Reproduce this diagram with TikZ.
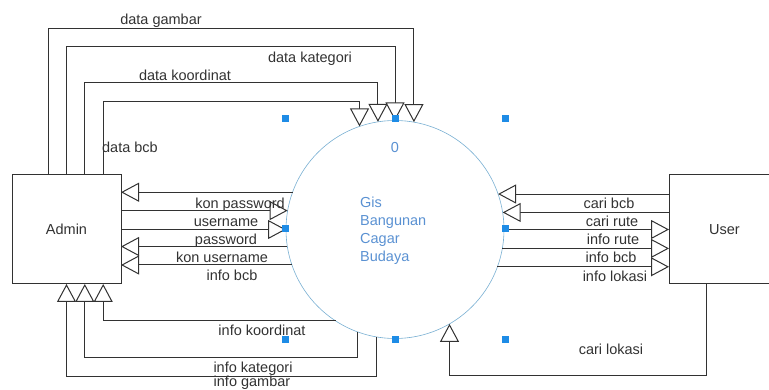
\documentclass[tikz,border=0pt]{standalone}
\usepackage{fontspec}
\setmainfont{Liberation Sans}
\usetikzlibrary{arrows.meta,calc}
\definecolor{procline}{RGB}{120,175,210}
\definecolor{proctext}{RGB}{90,145,210}
\definecolor{handle}{RGB}{30,140,230}
\definecolor{ink}{RGB}{50,50,50}
\begin{document}
\begin{tikzpicture}[x=1pt,y=-1pt,
  font=\fontsize{14.5}{17}\selectfont,
  entity/.style={draw=ink,line width=1pt,minimum width=109pt,minimum height=109pt,
    inner sep=0pt,outer sep=0pt,text=ink},
  process/.style={circle,draw=procline,line width=0.6pt,minimum size=218pt,
    inner sep=0pt,outer sep=0pt},
  flow/.style={draw=ink,line width=1pt,
    -{Triangle[length=18pt,width=19pt,fill=white]}},
  lbl/.style={text=ink,inner sep=0pt,anchor=mid,yshift=-2.5pt},
  ptext/.style={text=proctext,inner sep=0pt,anchor=mid west,yshift=-2pt},
  handlebox/.style={fill=handle,minimum size=7pt,inner sep=0pt}
]
\useasboundingbox (0,0) rectangle (769,390);
\clip (0,0) rectangle (769,390);

% external entities and the process
\node[entity] (admin) at (66.5,229.5) {Admin};
\node[entity,minimum width=111pt] (user) at (724.5,229.5) {User};
\node[process] (p) at (395,229.5) {};

% process texts
\node[text=proctext,inner sep=0pt,anchor=mid,yshift=-2pt] (pnum) at (395,148) {0};
\node[ptext] (pt1) at (360,202.7) {Gis};
\node[ptext] (pt2) at (360,220.7) {Bangunan};
\node[ptext] (pt3) at (360,238.7) {Cagar};
\node[ptext] (pt4) at (360,256.7) {Budaya};

% Admin -> process (top)
\draw[flow] ([xshift=36.7pt]admin.north) |- (p.109.3 |- 0,102) -- (p.109.3);
\draw[flow] ([xshift=18.3pt]admin.north) |- (p.99.5 |- 0,83) -- (p.99.5);
\draw[flow] (admin.north) |- (p.90 |- 0,47) -- (p.90);
\draw[flow] ([xshift=-18.3pt]admin.north) |- (p.80.5 |- 0,28.3) -- (p.80.5);

% Admin <-> process (left)
\draw[flow] (p.160.3) -- (admin.east |- p.160.3);
\draw[flow] (admin.east |- p.170.3) -- (p.170.3);
\draw[flow] (admin.east |- p.180) -- (p.180);
\draw[flow] (p.189.7) -- (admin.east |- p.189.7);
\draw[flow] (p.199.7) -- (admin.east |- p.199.7);

% process -> Admin (bottom)
\draw[flow] (p.237.1) -| ([xshift=36.7pt]admin.south);
\draw[flow] (p.250.7) -- (p.250.7 |- 0,357) -| ([xshift=18.3pt]admin.south);
\draw[flow] (p.260.5) -- (p.260.5 |- 0,376) -| (admin.south);

% User <-> process (right)
\draw[flow] (user.west |- p.19.7) -- (p.19.7);
\draw[flow] (user.west |- p.9.7) -- (p.9.7);
\draw[flow] (p.0) -- (user.west |- p.0);
\draw[flow] (p.350.3) -- (user.west |- p.350.3);
\draw[flow] (p.340.3) -- (user.west |- p.340.3);
\draw[flow] ([xshift=-18.5pt]user.south) |- (p.300.9 |- 0,375.7) -- (p.300.9);

% flow labels
\node[lbl] (l1) at (161,19) {data gambar};
\node[lbl] (l2) at (310,57) {data kategori};
\node[lbl] (l3) at (185,75) {data koordinat};
\node[lbl] (l4) at (130,147) {data bcb};
\node[lbl] (l5) at (240,203) {kon password};
\node[lbl] (l6) at (226,221) {username};
\node[lbl] (l7) at (226,239) {password};
\node[lbl] (l8) at (222,257) {kon username};
\node[lbl] (l9) at (232,275) {info bcb};
\node[lbl] (l10) at (262,330) {info koordinat};
\node[lbl] (l11) at (253,367) {info kategori};
\node[lbl] (l12) at (252,381) {info gambar};
\node[lbl] (r1) at (609,203) {cari bcb};
\node[lbl] (r2) at (612,221) {cari rute};
\node[lbl] (r3) at (613,239) {info rute};
\node[lbl] (r4) at (611,257) {info bcb};
\node[lbl] (r5) at (615,276) {info lokasi};
\node[lbl] (r6) at (611,349) {cari lokasi};

% selection handles of the process
\node[handlebox] (h1) at (285,119) {};
\node[handlebox] (h2) at (395,119) {};
\node[handlebox] (h3) at (505,119) {};
\node[handlebox] (h4) at (285,229) {};
\node[handlebox] (h5) at (505,229) {};
\node[handlebox] (h6) at (285,339) {};
\node[handlebox] (h7) at (395,339) {};
\node[handlebox] (h8) at (505,339) {};
\end{tikzpicture}
\end{document}
